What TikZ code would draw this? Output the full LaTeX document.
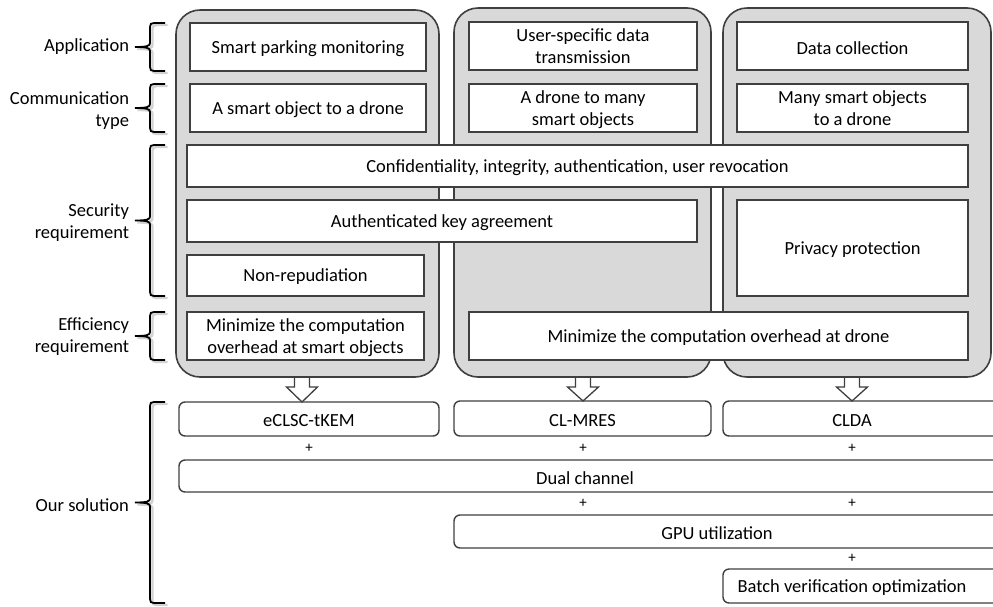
\documentclass[tikz,border=0pt]{standalone}
\usepackage{fontspec}
\setmainfont{Carlito}
\usetikzlibrary{calc}
\definecolor{panelgray}{HTML}{D9D9D9}
\definecolor{edgegray}{HTML}{3F3F3F}
\definecolor{shadowgray}{HTML}{D2D2D2}

% hollow block arrow from node #1 down to node #2, at the x of coordinate #3
\newcommand{\hollowdown}[3]{%
  \draw[blockarrow]
    ($(#1.south -| #3)+(-7.5,1)$) -- ($(#1.south -| #3)+(-7.5,10)$)
    -- ($(#1.south -| #3)+(-15.5,10)$) -- (#2.north -| #3)
    -- ($(#1.south -| #3)+(15.5,10)$) -- ($(#1.south -| #3)+(7.5,10)$)
    -- ($(#1.south -| #3)+(7.5,1)$);}

% square-ish curly brace opening to the right, from point #2 (top) to #3 (bottom)
\newcommand{\sidebrace}[3]{%
  \draw[#1] let \p1=#2, \p2=#3, \n1={0.5*(\y1+\y2)} in
    (\x1,\y1) -- (\x1-11pt,\y1) .. controls (\x1-14pt,\y1) and (\x1-15pt,\y1-1pt) .. (\x1-15pt,\y1-4pt)
    -- (\x1-15pt,\n1+4pt) .. controls (\x1-15pt,\n1+1pt) and (\x1-18pt,\n1) .. (\x1-30pt,\n1)
    .. controls (\x1-18pt,\n1) and (\x1-15pt,\n1-1pt) .. (\x1-15pt,\n1-4pt)
    -- (\x1-15pt,\y2+4pt) .. controls (\x1-15pt,\y2+1pt) and (\x1-14pt,\y2) .. (\x1-11pt,\y2)
    -- (\x1,\y2);}

\begin{document}
\begin{tikzpicture}[x=1pt,y=-1pt,
  every node/.style={font=\fontsize{18.5}{22}\selectfont, inner sep=0pt, outer sep=0pt},
  panel/.style={draw=edgegray, fill=panelgray, line width=1.6pt, rounded corners=24pt},
  reqbox/.style={draw=edgegray, fill=white, line width=1.6pt, align=center, text depth=0pt},
  solbox/.style={draw=edgegray, fill=white, line width=1.4pt, rounded corners=6pt},
  soltext/.style={yshift=-2},
  lbl/.style={anchor=east, align=right},
  plus/.style={font=\fontsize{15}{18}\selectfont},
  blockarrow/.style={draw=edgegray, fill=white, line width=1.3pt, line join=miter},
  bracemark/.style={draw=black, line width=1.8pt},
  braceshade/.style={draw=shadowgray, line width=2.4pt},
]
\useasboundingbox (0,0) rectangle (993,606);
\clip (0,0) rectangle (993,606);

% three grey requirement panels
\node[panel, minimum width=263, minimum height=367] (p1) at (307.5,193.5) {};
\node[panel, minimum width=257, minimum height=369] (p2) at (582.5,192.5) {};
\node[panel, minimum width=268, minimum height=369] (p3) at (857,192.5) {};

% application row
\node[reqbox, minimum width=236, minimum height=48] (a1) at (308,47) {Smart parking monitoring};
\node[reqbox, minimum width=228, minimum height=48] (a2) at (583,46) {User-specific data\\transmission};
\node[reqbox, minimum width=231, minimum height=48, text height=17.5pt] (a3) at (852.5,46) {Data collection};

% communication type row
\node[reqbox, minimum width=236, minimum height=48] (c1) at (308,108) {A smart object to a drone};
\node[reqbox, minimum width=228, minimum height=48] (c2) at (583,108) {A drone to many\\smart objects};
\node[reqbox, minimum width=231, minimum height=48] (c3) at (852.5,108) {Many smart objects\\to a drone};

% security requirements
\node[reqbox, minimum width=781, minimum height=42] (sec) at (577.5,166) {Confidentiality, integrity, authentication, user revocation};
\node[reqbox, minimum width=510, minimum height=42] (auth) at (442,221) {Authenticated key agreement};
\node[reqbox, minimum width=231, minimum height=96] (priv) at (852.5,248) {Privacy protection};
\node[reqbox, minimum width=237, minimum height=41] (nonrep) at (305.5,275.5) {Non-repudiation};

% efficiency requirements
\node[reqbox, minimum width=237, minimum height=48] (eff1) at (305.5,336) {Minimize the computation\\overhead at smart objects};
\node[reqbox, minimum width=499, minimum height=48] (eff2) at (718.5,336) {Minimize the computation overhead at drone};

% solutions
\node[solbox, minimum width=260, minimum height=34] (s1) at (309,419) {};
\node[soltext] (t1) at (s1.center) {eCLSC-tKEM};
\node[solbox, minimum width=257, minimum height=35] (s2) at (582.5,418.5) {};
\node[soltext] (t2) at (s2.center) {CL-MRES};
\node[solbox, minimum width=300, minimum height=35] (s3) at (873,418.5) {};
\node[soltext] (t3) at (852,418.5) {CLDA};
\node[solbox, minimum width=840, minimum height=32] (dual) at (599,476) {};
\node[soltext] (t4) at (585,476) {Dual channel};
\node[solbox, minimum width=566, minimum height=33] (gpu) at (737,531.5) {};
\node[soltext] (t5) at (717,531.5) {GPU utilization};
\node[solbox, minimum width=300, minimum height=34] (batch) at (873,586) {};
\node[soltext] (t6) at (852,586) {Batch verification optimization};

% plus signs
\node[plus] (pl1) at (309,448) {+};
\node[plus] (pl2) at (583,448) {+};
\node[plus] (pl3) at (852,448) {+};
\node[plus] (pl4) at (583,503) {+};
\node[plus] (pl5) at (852,503) {+};
\node[plus] (pl6) at (852,558) {+};

% arrows from each panel to its scheme
\coordinate (ax1) at (302,0);
\coordinate (ax2) at (583,0);
\coordinate (ax3) at (852,0);
\hollowdown{p1}{s1}{ax1}
\hollowdown{p2}{s2}{ax2}
\hollowdown{p3}{s3}{ax3}

% braces with a soft shadow
\coordinate (bx) at (165,0);
\coordinate (bs) at (167.5,0);
\foreach \lo/\hi in {a1.south/a1.north, c1.south/c1.north, nonrep.south/sec.north,
                     eff1.south/eff1.north, batch.south/s1.north}{
  \sidebrace{braceshade}{($(\hi -| bs)+(0,2)$)}{($(\lo -| bs)+(0,2)$)}
  \sidebrace{bracemark}{(\hi -| bx)}{(\lo -| bx)}
}

% row labels
\node[lbl] (lapp) at (129,47) {Application};
\node[lbl] (lcom) at (129,111) {Communication\\type};
\node[lbl] (lsec) at (129,223) {Security\\requirement};
\node[lbl] (leff) at (129,337) {Efficiency\\requirement};
\node[lbl] (lsol) at (129,505) {Our solution};
\end{tikzpicture}
\end{document}
